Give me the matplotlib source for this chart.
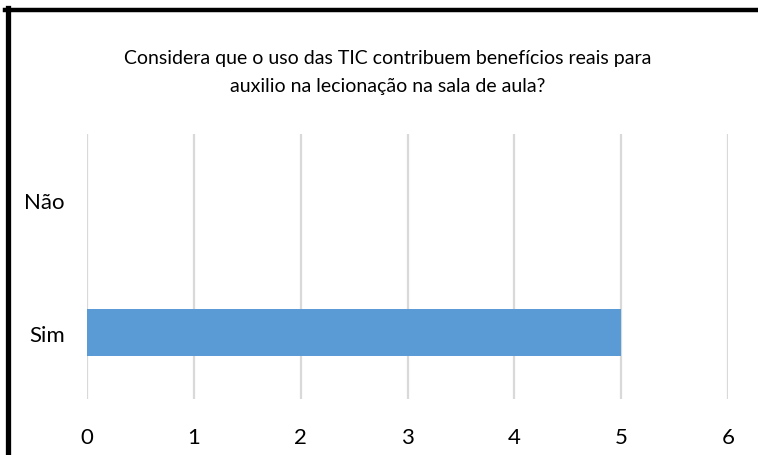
import matplotlib
matplotlib.use("Agg")
import matplotlib.pyplot as plt
from matplotlib.lines import Line2D

# dados
categorias = ["Sim", "Não"]
valores = [5, 0]
ticks_x = [0, 1, 2, 3, 4, 5, 6]
titulo = ("Considera que o uso das TIC contribuem benefícios reais para\n"
          "auxilio na lecionação na sala de aula?")

plt.rcParams["font.family"] = ["Lato", "DejaVu Sans"]

W, H = 758, 456
fig = plt.figure(figsize=(W / 100, H / 100), dpi=100)
ax = fig.add_axes([87 / W, 1 - 400 / H, (728 - 87) / W, (400 - 135) / H])

ax.barh(categorias, valores, height=0.355, color="#5b9bd5", zorder=3)
ax.set_xlim(0, 6)
ax.set_ylim(-0.5, 1.5)
ax.set_xticks(ticks_x)
ax.grid(axis="x", color="#d9d9d9", linewidth=1.6, zorder=0)
for s in ax.spines.values():
    s.set_visible(False)
ax.tick_params(length=0, labelsize=16, colors="#000000")
ax.tick_params(axis="x", pad=20)
ax.tick_params(axis="y", pad=16)

fig.text(388 / W, 1 - 72.5 / H, titulo, ha="center", va="center",
         fontsize=14, linespacing=1.75)

# moldura (só topo e esquerda visíveis)
fig.add_artist(Line2D([5 / W, 1], [1 - 11 / H, 1 - 11 / H], color="black",
                      linewidth=3.2, transform=fig.transFigure))
fig.add_artist(Line2D([7.5 / W, 7.5 / W], [0, 1 - 9 / H], color="black",
                      linewidth=3.8, transform=fig.transFigure))

fig.savefig("out.png", dpi=100)
